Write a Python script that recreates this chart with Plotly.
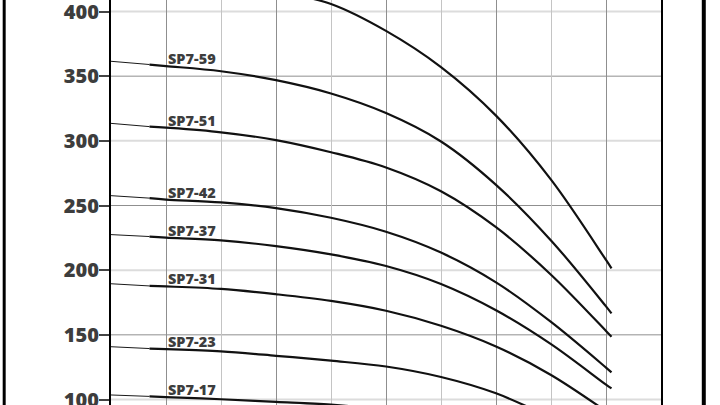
import plotly.graph_objects as go

# Flow (m3/h) sample points shared by all curves
flow = [0, 0.7, 1, 2, 3, 4, 5, 6, 7, 8, 9, 9.1]

# Head (m) read for each pump model
head_top = [435, 432.4, 431, 426, 416, 405.8, 385, 357, 319.5, 270, 207.9, 201.4]
head_sp7_59 = [361.5, 359, 357.8, 353.8, 346.9, 336.6, 321.5, 299.5, 266, 223, 172, 166.6]
head_sp7_51 = [313.5, 311, 310.2, 306.6, 300.6, 291.2, 279.4, 261, 233.2, 196.5, 153, 148.5]
head_sp7_42 = [257.6, 255.7, 254.6, 252.4, 248, 240.5, 229.7, 213.6, 190.6, 160, 124.7, 121]
head_sp7_37 = [227.5, 226, 225.2, 223, 218.6, 212.2, 203.2, 189.3, 169, 142.8, 111.5, 108.6]
head_sp7_31 = [189.5, 187.8, 187.4, 185.5, 181.4, 176.2, 168.6, 157, 141, 119, 91, 88]
head_sp7_23 = [140.8, 139.4, 139, 137.2, 133.8, 130, 125.5, 117.4, 104.8, 86, 66, 64]
head_sp7_17 = [103.5, 102.4, 101.9, 100.2, 98.2, 96, 92, 86, 77, 65, 50, 48.5]

curves = [
    ("", head_top),
    ("SP7-59", head_sp7_59),
    ("SP7-51", head_sp7_51),
    ("SP7-42", head_sp7_42),
    ("SP7-37", head_sp7_37),
    ("SP7-31", head_sp7_31),
    ("SP7-23", head_sp7_23),
    ("SP7-17", head_sp7_17),
]

y_ticks = [100, 150, 200, 250, 300, 350, 400]
y_light = [100, 200, 300, 400]
y_dark = [150, 250, 350]
x_light = [0, 2, 4, 6, 8, 10]
x_dark = [1, 3, 5, 7, 9]

FONT = "Open Sans"
TXT = "#3d3d3d"

fig = go.Figure()
for name, h in curves:
    # thin start segment (shut-off region)
    fig.add_trace(go.Scatter(x=flow[:2], y=h[:2], mode="lines",
                             line=dict(color="#1a1a1a", width=1),
                             showlegend=False, hoverinfo="skip"))
    fig.add_trace(go.Scatter(x=flow[1:], y=h[1:], mode="lines",
                             line=dict(color="#111111", width=2.2, shape="spline", smoothing=1),
                             showlegend=False, hoverinfo="skip"))
    if name:
        fig.add_annotation(x=flow[2], y=h[2], text=name, showarrow=False,
                           xanchor="left", yanchor="bottom", xshift=0, yshift=-4,
                           font=dict(family=FONT, size=14.5, color=TXT, weight=800))

fig.update_xaxes(range=[0, 10], showticklabels=False, ticks="",
                 tickmode="array", tickvals=x_light,
                 showgrid=True, gridcolor="#c4c4c4", gridwidth=1,
                 minor=dict(tickmode="array", tickvals=x_dark, showgrid=True,
                            gridcolor="#8f8f8f", gridwidth=1),
                 showline=False, zeroline=False, automargin=False)
fig.update_yaxes(range=[95.75, 408.89], tickmode="array", tickvals=y_ticks,
                 ticktext=[str(v) for v in y_ticks], showgrid=False,
                 ticks="outside", ticklen=10, tickwidth=1.5, tickcolor="#444",
                 ticklabelstandoff=-4, ticklabeloverflow="allow",
                 tickfont=dict(family=FONT, size=20, color=TXT, weight=800),
                 showline=True, linecolor="#000", linewidth=2, mirror=True,
                 zeroline=False, automargin=False)

fig.update_layout(
    width=720, height=405,
    margin=dict(l=111, r=59, t=0, b=0, autoexpand=False),
    paper_bgcolor="white", plot_bgcolor="white",
    shapes=[
        dict(type="line", xref="paper", yref="paper", x0=-0.1942, x1=-0.1942, y0=-0.05, y1=1.05,
             line=dict(color="#000", width=3)),
        dict(type="line", xref="paper", yref="paper", x0=1.0778, x1=1.0778, y0=-0.05, y1=1.05,
             line=dict(color="#000", width=4)),
    ],
)

# horizontal grid lines in two tones, drawn beneath the data
for v in y_light:
    fig.add_hline(y=v, line=dict(color="#dcdcdc", width=2), layer="below")
for v in y_dark:
    fig.add_hline(y=v, line=dict(color="#8f8f8f", width=1), layer="below")

fig.write_html("out.html")
